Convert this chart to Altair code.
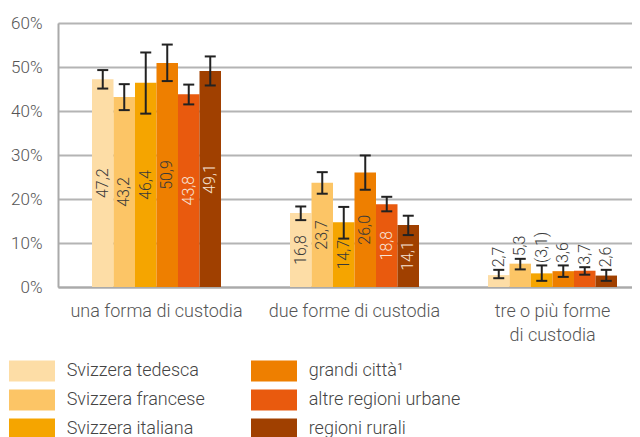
import altair as alt
import pandas as pd

categories = ["una forma di custodia", "due forme di custodia", "tre o più forme\ndi custodia"]
series = ["Svizzera tedesca", "Svizzera francese", "Svizzera italiana",
          "grandi città¹", "altre regioni urbane", "regioni rurali"]
colors = ["#FDDDA6", "#FCC566", "#F5A500", "#EE7F00", "#E95A0E", "#A04000"]

values = [
    [47.2, 43.2, 46.4, 50.9, 43.8, 49.1],
    [16.8, 23.7, 14.7, 26.0, 18.8, 14.1],
    [2.7, 5.3, 3.1, 3.6, 3.7, 2.6],
]
lower = [
    [45.1, 40.2, 39.4, 46.8, 41.5, 45.8],
    [15.2, 21.2, 11.0, 22.1, 17.2, 11.8],
    [2.0, 4.0, 1.4, 2.3, 2.8, 1.4],
]
upper = [
    [49.3, 46.1, 53.3, 55.1, 46.0, 52.4],
    [18.3, 26.1, 18.2, 29.9, 20.5, 16.2],
    [3.9, 6.4, 4.9, 4.9, 4.5, 3.9],
]
uncertain = [
    [False] * 6,
    [False] * 6,
    [False, False, True, False, False, False],
]

rows = []
for ci, cat in enumerate(categories):
    for si, s in enumerate(series):
        v = values[ci][si]
        lab = f"{v:.1f}".replace(".", ",")
        if uncertain[ci][si]:
            lab = f"({lab})"
        rows.append(dict(cat=cat, series=s, value=v, lo=lower[ci][si],
                         hi=upper[ci][si], label=lab))
df = pd.DataFrame(rows)

FONT = "Roboto"
third = categories[2]

x = alt.X("cat:N", sort=categories,
          scale=alt.Scale(paddingInner=0.3485, paddingOuter=0.1237, align=0.694),
          axis=alt.Axis(title=None, labelAngle=0, ticks=False,
                        labelExpr="split(datum.label, '\\n')",
                        labelFontSize=18, labelFont=FONT, labelFontWeight=300,
                        labelColor="#555555", labelPadding=15, labelLineHeight=24,
                        domainColor="#aaaaaa", domainWidth=2, labelBaseline="top"))
xo = alt.XOffset("series:N", sort=series, scale=alt.Scale(paddingInner=0, paddingOuter=0))

yaxis = alt.Axis(title=None, values=[0, 10, 20, 30, 40, 50, 60],
                 labelExpr="datum.value + '%'", ticks=False,
                 gridColor="#b4b4b4", gridWidth=2, domainColor="#aaaaaa", domainWidth=2,
                 labelFontSize=17, labelFont=FONT, labelFontWeight=300,
                 labelColor="#555555", labelPadding=16)
yscale = alt.Scale(domain=[0, 60])

base = alt.Chart(df)

bars = base.mark_bar(strokeWidth=0).encode(
    x=x, xOffset=xo,
    y=alt.Y("value:Q", scale=yscale, axis=yaxis),
    color=alt.Color("series:N",
                    scale=alt.Scale(domain=series, range=colors),
                    legend=alt.Legend(orient="none", legendX=-36.5, legendY=337.5,
                                      columns=2, title=None,
                                      symbolType="M-2.19,-1H2.19V1H-2.19Z",
                                      symbolSize=441, symbolStrokeWidth=0,
                                      symbolOpacity=1, labelOffset=24.2,
                                      labelFontSize=18, labelFont=FONT,
                                      labelFontWeight=300, labelColor="#444444",
                                      rowPadding=8, columnPadding=45,
                                      labelLimit=300, padding=0)),
)

err = base.mark_rule(color="#222222", strokeWidth=2).encode(
    x=x, xOffset=xo,
    y=alt.Y("lo:Q", scale=yscale, axis=yaxis), y2="hi:Q",
)
cap_lo = base.mark_tick(color="#222222", size=11, thickness=2, opacity=1).encode(
    x=x, xOffset=xo, y=alt.Y("lo:Q", scale=yscale, axis=yaxis))
cap_hi = base.mark_tick(color="#222222", size=11, thickness=2, opacity=1).encode(
    x=x, xOffset=xo, y=alt.Y("hi:Q", scale=yscale, axis=yaxis))

light = ["altre regioni urbane", "regioni rurali"]

txt_in = base.transform_filter(alt.datum.cat != third).transform_calculate(
    mid="datum.value / 2"
).mark_text(angle=270, align="center", baseline="middle", fontSize=16,
            font=FONT, fontWeight=300).encode(
    x=x, xOffset=xo,
    y=alt.Y("mid:Q", scale=yscale, axis=yaxis),
    text="label:N",
    color=alt.condition(alt.FieldOneOfPredicate(field="series", oneOf=light),
                        alt.value("#f7e4d6"), alt.value("#3a3a3a")),
)
txt_out = base.transform_filter(alt.datum.cat == third).mark_text(
    angle=270, align="left", baseline="middle", fontSize=16, font=FONT,
    fontWeight=300, dx=2.5, color="#3a3a3a").encode(
    x=x, xOffset=xo,
    y=alt.Y("hi:Q", scale=yscale, axis=yaxis),
    text="label:N",
)

chart = alt.layer(bars, err, cap_lo, cap_hi, txt_in, txt_out).properties(
    width=574, height=264,
    autosize=alt.AutoSizeParams(type="none"),
    padding={"left": 50, "top": 15, "right": 0, "bottom": 160},
).configure_view(fill="#f1f1f1", stroke=None).configure(font=FONT)

chart.save("out.html", embed_options={"renderer": "svg", "actions": False})
